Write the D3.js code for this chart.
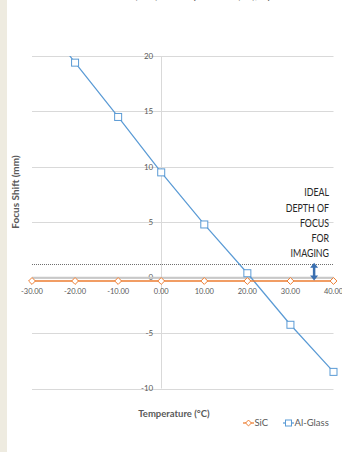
<!DOCTYPE html>
<html>
<head>
<meta charset="utf-8">
<script src="https://cdn.jsdelivr.net/npm/d3@7"></script>
<style>
  html, body { margin: 0; padding: 0; background: #ffffff; }
  svg { display: block; }
</style>
</head>
<body>
<script>
// Focus shift vs temperature for two mirror materials
const temperatures = [-30, -20, -10, 0, 10, 20, 30, 40];
const sicShift = [-0.3, -0.3, -0.3, -0.3, -0.3, -0.3, -0.3, -0.3];
const alGlassShift = [24.4, 19.4, 14.5, 9.5, 4.8, 0.4, -4.25, -8.5];
const yTicks = [-10, -5, 0, 5, 10, 15, 20];
const xTicks = [-30, -20, -10, 0, 10, 20, 30, 40];
const depthOfFocus = [1.25, -0.25];   // band drawn with dotted line and arrow
const noteLines = ["IDEAL", "DEPTH OF", "FOCUS", "FOR", "IMAGING"];

const W = 342, H = 452;
const svg = d3.select("body").append("svg").attr("width", W).attr("height", H);

const x = d3.scaleLinear().domain([-30, 40]).range([32, 333.5]);
const y = d3.scaleLinear().domain([-10, 20]).range([388.5, 56]);

const orange = "#ed7d31", blue = "#5b9bd5", grid = "#d9d9d9", txt = "#595959";
const font = "Lato, 'Open Sans', sans-serif";

// page edge strip
svg.append("rect").attr("x", 0).attr("y", 0).attr("width", 7).attr("height", H).attr("fill", "#eeebe0");

// heading running off the top edge
svg.append("text").attr("x", 192).attr("y", -1.5).attr("text-anchor", "middle")
  .attr("font-family", font).attr("font-size", 11).attr("fill", "#595959")
  .text("Focus Shift (mm) vs Temperature (°C), by Mirror");

// horizontal gridlines
svg.append("g").selectAll("line").data(yTicks).join("line")
  .attr("x1", x(-30)).attr("x2", x(40))
  .attr("y1", d => Math.round(y(d)) + 0.5).attr("y2", d => Math.round(y(d)) + 0.5)
  .attr("stroke", grid).attr("stroke-width", 1);

// vertical axis at 0
svg.append("line").attr("x1", Math.round(x(0)) + 0.5).attr("x2", Math.round(x(0)) + 0.5)
  .attr("y1", y(20)).attr("y2", y(-10)).attr("stroke", grid);

// y tick labels beside the vertical axis
svg.append("g").selectAll("text").data(yTicks).join("text")
  .attr("x", x(0) - 8).attr("y", d => y(d)).attr("dy", "0.35em")
  .attr("text-anchor", "end").attr("font-family", font).attr("font-size", 8)
  .attr("fill", txt).text(d => d);

// horizontal axis at 0
svg.append("line").attr("x1", x(-30)).attr("x2", x(40))
  .attr("y1", y(0)).attr("y2", y(0)).attr("stroke", "#c8c8c8").attr("stroke-width", 2);

// depth-of-focus upper boundary
svg.append("line").attr("x1", x(-30)).attr("x2", x(40))
  .attr("y1", Math.round(y(depthOfFocus[0])) + 0.5).attr("y2", Math.round(y(depthOfFocus[0])) + 0.5)
  .attr("stroke", "#6f6f6f").attr("stroke-width", 1).attr("stroke-dasharray", "1,1");

// x tick labels
svg.append("g").selectAll("text").data(xTicks).join("text")
  .attr("x", d => x(d)).attr("y", y(0) + 16)
  .attr("text-anchor", "middle").attr("font-family", font).attr("font-size", 7.5)
  .attr("fill", txt).text(d => d.toFixed(2));

// clip region for series
svg.append("clipPath").attr("id", "plot").append("rect")
  .attr("x", x(-30) - 6).attr("y", y(20)).attr("width", x(40) - x(-30) + 12).attr("height", y(-10) - y(20));

const line = d3.line().x((d, i) => x(temperatures[i])).y(d => y(d));

// Al-Glass series
svg.append("path").datum(alGlassShift).attr("d", line).attr("clip-path", "url(#plot)")
  .attr("fill", "none").attr("stroke", blue).attr("stroke-width", 1.25);
svg.append("g").selectAll("rect")
  .data(alGlassShift.map((v, i) => [temperatures[i], v]).filter(d => d[1] <= 20))
  .join("rect")
  .attr("x", d => x(d[0]) - 3.5).attr("y", d => y(d[1]) - 3.5)
  .attr("width", 7).attr("height", 7)
  .attr("fill", "#fff").attr("stroke", blue).attr("stroke-width", 1);

// SiC series
svg.append("path").datum(sicShift).attr("d", line)
  .attr("fill", "none").attr("stroke", orange).attr("stroke-width", 1.5);
const diamond = d3.symbol().type(d3.symbolDiamond2).size(30);
svg.append("g").selectAll("path").data(sicShift.map((v, i) => [temperatures[i], v])).join("path")
  .attr("transform", d => `translate(${x(d[0])},${y(d[1])})`)
  .attr("d", diamond).attr("fill", "#fff").attr("stroke", orange).attr("stroke-width", 1);

// double-headed arrow across the depth of focus
const ax = x(35.5), aTop = y(depthOfFocus[0]) - 1, aBot = y(depthOfFocus[1]);
const arrowBlue = "#3a6fb0";
svg.append("line").attr("x1", ax).attr("x2", ax).attr("y1", aTop + 4).attr("y2", aBot - 4)
  .attr("stroke", arrowBlue).attr("stroke-width", 2.5);
svg.append("path").attr("d", `M${ax - 4},${aTop + 5}L${ax},${aTop}L${ax + 4},${aTop + 5}Z`).attr("fill", arrowBlue);
svg.append("path").attr("d", `M${ax - 4},${aBot - 5}L${ax},${aBot}L${ax + 4},${aBot - 5}Z`).attr("fill", arrowBlue);

// annotation, set in a condensed cut anchored at its right edge
svg.append("g").attr("transform", "translate(329,0) scale(0.8,1)")
  .selectAll("text").data(noteLines).join("text")
  .attr("x", 0).attr("y", (d, i) => 196.5 + i * 15.2)
  .attr("text-anchor", "end").attr("font-family", font).attr("font-size", 11)
  .attr("fill", "#262626").text(d => d);

// axis titles
svg.append("text").attr("transform", "translate(19,192) rotate(-90)")
  .attr("text-anchor", "middle").attr("font-family", font).attr("font-size", 10)
  .attr("font-weight", "bold").attr("fill", txt).text("Focus Shift (mm)");
svg.append("text").attr("x", 174).attr("y", 416.5)
  .attr("text-anchor", "middle").attr("font-family", font).attr("font-size", 9.5)
  .attr("font-weight", "bold").attr("fill", txt).text("Temperature (°C)");

// legend
const legend = [
  { name: "SiC", color: orange, x0: 243, shape: "diamond" },
  { name: "Al-Glass", color: blue, x0: 283, shape: "square" }
];
const lg = svg.append("g").selectAll("g").data(legend).join("g")
  .attr("transform", d => `translate(${d.x0},423)`);
lg.append("line").attr("x1", 0).attr("x2", 11).attr("y1", 0).attr("y2", 0)
  .attr("stroke", d => d.color).attr("stroke-width", 1.25);
lg.filter(d => d.shape === "diamond").append("path")
  .attr("transform", "translate(5.5,0)").attr("d", d3.symbol().type(d3.symbolDiamond2).size(22))
  .attr("fill", "#fff").attr("stroke", d => d.color);
lg.filter(d => d.shape === "square").append("rect")
  .attr("x", 2.5).attr("y", -3).attr("width", 6).attr("height", 6)
  .attr("fill", "#fff").attr("stroke", d => d.color);
lg.append("text").attr("x", 11.5).attr("y", 0).attr("dy", "0.35em")
  .attr("font-family", font).attr("font-size", 9.5).attr("fill", txt).text(d => d.name);
</script>
</body>
</html>
